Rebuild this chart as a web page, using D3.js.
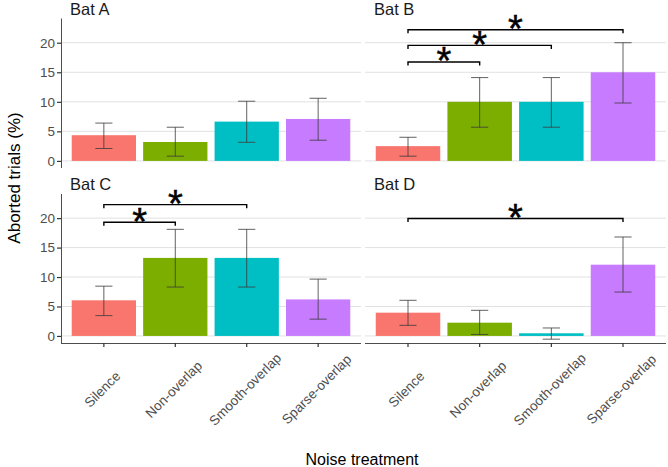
<!DOCTYPE html>
<html>
<head>
<meta charset="utf-8">
<script src="https://cdn.jsdelivr.net/npm/d3@7"></script>
<style>
  html, body { margin: 0; padding: 0; background: #fff; }
  svg { display: block; font-family: "Liberation Sans", Arial, sans-serif; }
</style>
</head>
<body>
<svg id="chart" width="668" height="467"></svg>
<script>
// ---- data ----
const treatments = ["Silence", "Non-overlap", "Smooth-overlap", "Sparse-overlap"];
const bats = ["Bat A", "Bat B", "Bat C", "Bat D"];
const colors = ["#F8766D", "#7CAE00", "#00BFC4", "#C77CFF"];
const yTicks = [0, 5, 10, 15, 20];

const meanA = [4.35, 3.2, 6.65, 7.1];
const lowA  = [2.1, 0.8, 3.15, 3.5];
const highA = [6.4, 5.7, 10.1, 10.6];

const meanB = [2.5, 10.0, 10.0, 15.0];
const lowB  = [0.8, 5.7, 5.7, 9.8];
const highB = [4.0, 14.1, 14.1, 20.0];

const meanC = [6.05, 13.25, 13.25, 6.2];
const lowC  = [3.45, 8.3, 8.3, 2.85];
const highC = [8.45, 18.1, 18.1, 9.65];

const meanD = [3.95, 2.25, 0.45, 12.1];
const lowD  = [1.8, 0.25, -0.55, 7.45];
const highD = [6.05, 4.35, 1.35, 16.8];

// significance brackets: bat, from, to, y
const sigBat  = ["Bat B", "Bat B", "Bat B", "Bat C", "Bat C", "Bat D"];
const sigFrom = ["Silence", "Silence", "Silence", "Silence", "Silence", "Silence"];
const sigTo   = ["Non-overlap", "Smooth-overlap", "Sparse-overlap", "Non-overlap", "Smooth-overlap", "Sparse-overlap"];
const sigY    = [16.75, 19.55, 22.2, 19.3, 22.3, 19.95];
const sigLabel = "*";

const means = [meanA, meanB, meanC, meanD];
const lows = [lowA, lowB, lowC, lowD];
const highs = [highA, highB, highC, highD];

// ---- layout ----
const svg = d3.select("#chart");
const colX = [[61, 361], [365, 666]];
const rowY = [[18.5, 168], [194, 343]];
const yDomain = [-1.2, 24.1];
const tipLen = 0.6;

const tickColor = "#333333";
const textGray = "#4D4D4D";

bats.forEach((bat, i) => {
  const col = i % 2, row = Math.floor(i / 2);
  const [x0, x1] = colX[col];
  const [yTop, yBot] = rowY[row];
  const x = d3.scaleBand().domain(treatments).range([x0, x1]).paddingInner(0.1).paddingOuter(0.15);
  const y = d3.scaleLinear().domain(yDomain).range([yBot, yTop]);
  const g = svg.append("g");
  const cx = t => x(t) + x.bandwidth() / 2;

  // grid
  g.selectAll("line.grid").data(yTicks).enter().append("line")
    .attr("x1", x0).attr("x2", x1)
    .attr("y1", d => y(d)).attr("y2", d => y(d))
    .attr("stroke", "#E1E1E1").attr("stroke-width", 1);

  // bars
  g.selectAll("rect.bar").data(treatments).enter().append("rect")
    .attr("x", d => x(d))
    .attr("width", x.bandwidth())
    .attr("y", (d, j) => y(Math.max(0, means[i][j])))
    .attr("height", (d, j) => Math.abs(y(0) - y(means[i][j])))
    .attr("fill", (d, j) => colors[j]);

  // error bars
  const capW = x.step() * 0.24;
  const eb = g.selectAll("g.eb").data(treatments).enter().append("g")
    .attr("stroke", "#3A3A3A").attr("stroke-width", 0.8).attr("fill", "none");
  eb.append("line").attr("x1", d => cx(d)).attr("x2", d => cx(d))
    .attr("y1", (d, j) => y(lows[i][j])).attr("y2", (d, j) => y(highs[i][j]));
  eb.append("line").attr("x1", d => cx(d) - capW / 2).attr("x2", d => cx(d) + capW / 2)
    .attr("y1", (d, j) => y(lows[i][j])).attr("y2", (d, j) => y(lows[i][j]));
  eb.append("line").attr("x1", d => cx(d) - capW / 2).attr("x2", d => cx(d) + capW / 2)
    .attr("y1", (d, j) => y(highs[i][j])).attr("y2", (d, j) => y(highs[i][j]));

  // significance brackets
  sigBat.forEach((b, k) => {
    if (b !== bat) return;
    const xa = cx(sigFrom[k]), xb = cx(sigTo[k]);
    const yl = y(sigY[k]), yt = y(sigY[k] - tipLen);
    g.append("path")
      .attr("d", `M${xa},${yt}L${xa},${yl}L${xb},${yl}L${xb},${yt}`)
      .attr("fill", "none").attr("stroke", "#000").attr("stroke-width", 1.4);
    g.append("text")
      .attr("x", (xa + xb) / 2).attr("y", yl + 12.5)
      .attr("text-anchor", "middle")
      .attr("font-size", 38).attr("fill", "#000")
      .attr("stroke", "#000").attr("stroke-width", 0.5)
      .text(sigLabel);
  });

  // strip label
  svg.append("text").attr("x", x0 + 9).attr("y", row === 0 ? 14.5 : 190)
    .attr("font-size", 16.5).attr("fill", "#1A1A1A").text(bat);

  // y axis (left column)
  if (col === 0) {
    const ya = svg.append("g").attr("transform", `translate(${x0},0)`)
      .call(d3.axisLeft(y).tickValues(yTicks).tickSize(4).tickPadding(2).tickFormat(d3.format("d")));
    ya.select(".domain").attr("stroke", "#4D4D4D").attr("stroke-width", 1).attr("d", `M0.5,${yTop}V${yBot}`);
    ya.selectAll(".tick line").attr("stroke", tickColor).attr("stroke-width", 1.2);
    ya.selectAll(".tick text").attr("fill", textGray).attr("font-size", 13.5)
      .attr("font-family", "Liberation Sans, Arial, sans-serif");
  }
  // x axis (bottom row)
  if (row === 1) {
    const xa = svg.append("g").attr("transform", `translate(0,${yBot})`)
      .call(d3.axisBottom(x).tickSize(4).tickSizeOuter(0));
    xa.select(".domain").attr("stroke", "#4D4D4D").attr("stroke-width", 1).attr("d", `M${x0},0.5H${x1}`);
    xa.selectAll(".tick line").attr("stroke", tickColor).attr("stroke-width", 1.2);
    xa.selectAll(".tick text")
      .attr("fill", textGray).attr("font-size", 13.5)
      .attr("font-family", "Liberation Sans, Arial, sans-serif")
      .attr("text-anchor", "middle")
      .attr("dy", null)
      .attr("y", 0)
      .attr("dominant-baseline", "central")
      .attr("transform", "translate(-1.5,46.5) rotate(-45)");
  }
});

// axis titles
svg.append("text")
  .attr("x", 362).attr("y", 464.5)
  .attr("text-anchor", "middle").attr("font-size", 16).attr("fill", "#000")
  .text("Noise treatment");
svg.append("text")
  .attr("transform", "translate(20,178) rotate(-90)")
  .attr("text-anchor", "middle").attr("font-size", 17).attr("fill", "#000")
  .text("Aborted trials (%)");
</script>
</body>
</html>
